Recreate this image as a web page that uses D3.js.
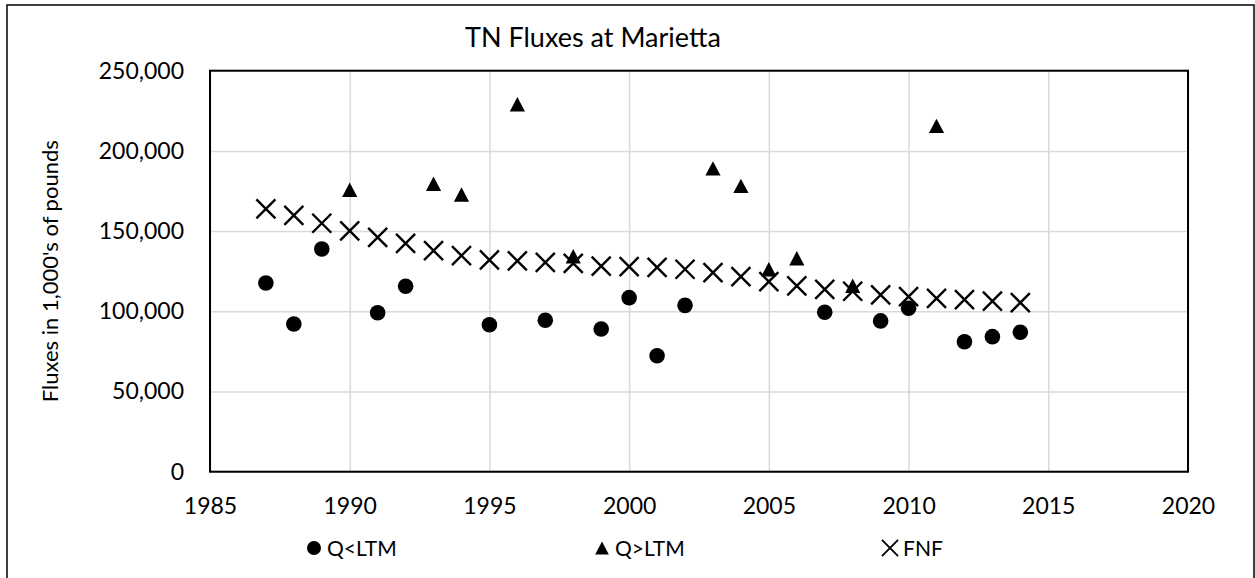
<!DOCTYPE html>
<html>
<head>
<meta charset="utf-8">
<script src="https://cdn.jsdelivr.net/npm/d3@7"></script>
<style>
  body { margin: 0; background: #fff; }
  text { font-family: Lato, "Open Sans", sans-serif; fill: #000; }
</style>
</head>
<body>
<svg width="1255" height="578"></svg>
<script>
// data
var lowYears = [1987, 1988, 1989, 1991, 1992, 1995, 1997, 1999, 2000, 2001, 2002, 2007, 2009, 2010, 2012, 2013, 2014];
var lowValues = [117600, 92100, 138800, 99100, 115600, 91600, 94400, 89000, 108500, 72300, 103700, 99400, 94000, 101900, 81000, 84200, 86900];

var highYears = [1990, 1993, 1994, 1996, 1998, 2003, 2004, 2005, 2006, 2008, 2011];
var highValues = [175800, 179500, 172800, 229100, 134300, 189100, 178200, 126200, 133100, 115900, 215600];

var fnfYears = d3.range(1987, 2015);
var fnfValues = [163800, 159800, 154900, 150200, 146100, 142400, 137800, 134700, 132000, 131400,
                 130500, 129900, 128200, 127800, 127400, 126200, 124100, 121600, 118500, 115800,
                 113700, 112500, 110200, 109100, 108100, 107300, 106300, 105400];

var xTicks = [1985, 1990, 1995, 2000, 2005, 2010, 2015, 2020];
var yTicks = [0, 50000, 100000, 150000, 200000, 250000];

var legendNames = ["Q<LTM", "Q>LTM", "FNF"];

var svg = d3.select("svg");
var margin = {top: 70.7, right: 67, bottom: 106.3, left: 210};
var width = 1255 - margin.left - margin.right;
var height = 578 - margin.top - margin.bottom;

// outer chart frame
svg.append("rect")
    .attr("x", 7).attr("y", 5)
    .attr("width", 1247).attr("height", 590)
    .attr("fill", "none").attr("stroke", "#000").attr("stroke-width", 1.5);

svg.append("text")
    .attr("x", 465).attr("y", 47)
    .style("font-size", "27px")
    .text("TN Fluxes at Marietta");

var g = svg.append("g").attr("transform", "translate(" + margin.left + "," + margin.top + ")");

var x = d3.scaleLinear().domain([1985, 2020]).range([0, width]);
var y = d3.scaleLinear().domain([0, 250000]).range([height, 0]);

// gridlines
g.append("g")
    .call(d3.axisLeft(y).tickValues(yTicks).tickSize(-width).tickFormat(""))
    .call(function(a) { a.select(".domain").remove(); })
    .selectAll("line").attr("stroke", "#d9d9d9").attr("stroke-width", 1.5);

g.append("g")
    .attr("transform", "translate(0," + height + ")")
    .call(d3.axisBottom(x).tickValues(xTicks).tickSize(-height).tickFormat(""))
    .call(function(a) { a.select(".domain").remove(); })
    .selectAll("line").attr("stroke", "#d9d9d9").attr("stroke-width", 1.5);

// tick labels
var yAxis = g.append("g")
    .call(d3.axisLeft(y).tickValues(yTicks).tickSize(0).tickPadding(26).tickFormat(d3.format(",")));
yAxis.select(".domain").remove();
yAxis.selectAll("text").style("font-size", "23px").style("font-family", "Lato");

var xAxis = g.append("g")
    .attr("transform", "translate(0," + height + ")")
    .call(d3.axisBottom(x).tickValues(xTicks).tickSize(0).tickPadding(26).tickFormat(d3.format("d")));
xAxis.select(".domain").remove();
xAxis.selectAll("text").style("font-size", "23px").style("font-family", "Lato");

// plot border
g.append("rect")
    .attr("width", width).attr("height", height)
    .attr("fill", "none").attr("stroke", "#000").attr("stroke-width", 2);

svg.append("text")
    .attr("transform", "translate(58," + (margin.top + height / 2) + ") rotate(-90)")
    .attr("text-anchor", "middle")
    .style("font-size", "22px")
    .text("Fluxes in 1,000's of pounds");

function triangle(cx, cy) {
    return "M" + cx + "," + (cy - 7.2) + "L" + (cx + 7.6) + "," + (cy + 7.2) + "L" + (cx - 7.6) + "," + (cy + 7.2) + "Z";
}
function cross(cx, cy) {
    var s = 9.5;
    return "M" + (cx - s) + "," + (cy - s) + "L" + (cx + s) + "," + (cy + s) +
           "M" + (cx - s) + "," + (cy + s) + "L" + (cx + s) + "," + (cy - s);
}

var low = lowYears.map(function(d, i) { return [d, lowValues[i]]; });
var high = highYears.map(function(d, i) { return [d, highValues[i]]; });
var fnf = fnfYears.map(function(d, i) { return [d, fnfValues[i]]; });

g.selectAll(".low").data(low).enter().append("circle")
    .attr("class", "low")
    .attr("cx", function(d) { return x(d[0]); })
    .attr("cy", function(d) { return y(d[1]); })
    .attr("r", 7.8)
    .attr("fill", "#000");

g.selectAll(".high").data(high).enter().append("path")
    .attr("class", "high")
    .attr("d", function(d) { return triangle(x(d[0]), y(d[1])); })
    .attr("fill", "#000");

g.selectAll(".fnf").data(fnf).enter().append("path")
    .attr("class", "fnf")
    .attr("d", function(d) { return cross(x(d[0]), y(d[1])); })
    .attr("fill", "none").attr("stroke", "#000").attr("stroke-width", 2.4);

// legend
var leg = svg.append("g").attr("transform", "translate(0,548)");
var legX = [314, 602, 890];
leg.append("circle").attr("cx", legX[0]).attr("cy", 0).attr("r", 7).attr("fill", "#000");
leg.append("path").attr("d", triangle(legX[1], 0)).attr("fill", "#000")
    .attr("transform", "translate(" + legX[1] + ",0) scale(0.9) translate(" + (-legX[1]) + ",0)");
leg.append("path").attr("d", cross(legX[2], 0)).attr("fill", "none").attr("stroke", "#000").attr("stroke-width", 2.2)
    .attr("transform", "translate(" + legX[2] + ",0) scale(0.85) translate(" + (-legX[2]) + ",0)");
leg.selectAll(".lt").data(legendNames).enter().append("text")
    .attr("x", function(d, i) { return legX[i] + 13; })
    .attr("y", 7.5)
    .style("font-size", "21px")
    .text(function(d) { return d; });
</script>
</body>
</html>
